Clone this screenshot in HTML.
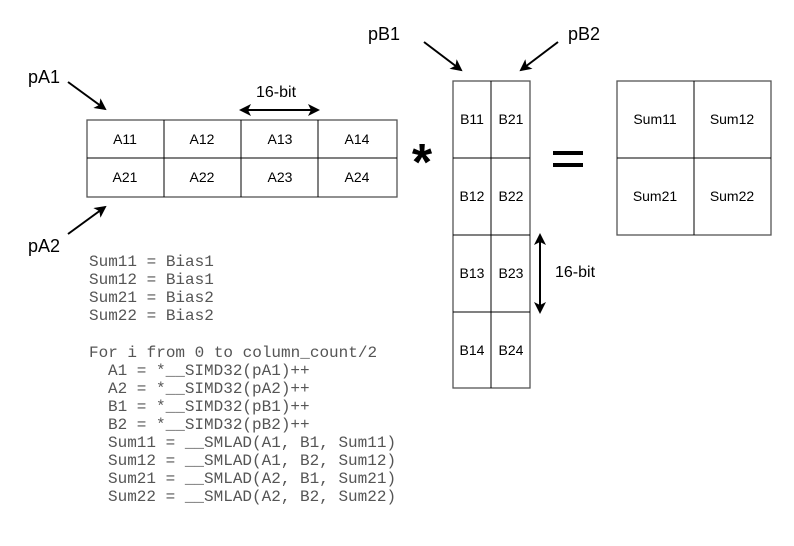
<!DOCTYPE html><html><head><style>body{margin:0;background:#fff}</style></head><body>
<svg width="794" height="541" xmlns="http://www.w3.org/2000/svg" font-family="Liberation Sans, sans-serif">
<defs><marker id="a" markerWidth="12" markerHeight="12" refX="10" refY="6" orient="auto" markerUnits="userSpaceOnUse"><path d="M0,0 L12,6 L0,12 L3,6 z" fill="#000"/></marker></defs>
<g fill="none" stroke="#555" stroke-width="1.3">
<rect x="87" y="120" width="310" height="77"/>
<rect x="453" y="81" width="77" height="307"/>
<rect x="617" y="81" width="154" height="154"/>
</g>
<g stroke="#000" stroke-width="1">
<line x1="87" y1="158" x2="397" y2="158"/><line x1="164" y1="120" x2="164" y2="197"/><line x1="241" y1="120" x2="241" y2="197"/><line x1="318" y1="120" x2="318" y2="197"/>
<line x1="491" y1="81" x2="491" y2="388"/><line x1="453" y1="158" x2="530" y2="158"/><line x1="453" y1="235" x2="530" y2="235"/><line x1="453" y1="312" x2="530" y2="312"/>
<line x1="694" y1="81" x2="694" y2="235"/><line x1="617" y1="158" x2="771" y2="158"/>
</g>
<g stroke="#000" stroke-width="2" marker-end="url(#a)">
<line x1="68" y1="82" x2="105" y2="109"/><line x1="68" y1="234" x2="105" y2="207"/>
<line x1="424" y1="42" x2="461" y2="70"/><line x1="558" y1="42" x2="521" y2="70"/>
<line x1="279" y1="110" x2="318" y2="110"/><line x1="279" y1="110" x2="241" y2="110"/>
<line x1="540" y1="273" x2="540" y2="312"/><line x1="540" y1="273" x2="540" y2="235"/>
</g>
<g font-size="18" fill="#000">
<text x="28" y="83">pA1</text><text x="28" y="252">pA2</text><text x="368" y="40">pB1</text><text x="568" y="40">pB2</text>
<text x="256" y="97" font-size="16">16-bit</text><text x="555" y="277" font-size="16">16-bit</text>
</g>
<g font-size="14" text-anchor="middle">
<text x="125" y="144">A11</text><text x="202" y="144">A12</text><text x="280" y="144">A13</text><text x="357" y="144">A14</text>
<text x="125" y="182">A21</text><text x="202" y="182">A22</text><text x="280" y="182">A23</text><text x="357" y="182">A24</text>
<text x="472" y="124">B11</text><text x="511" y="124">B21</text>
<text x="472" y="201">B12</text><text x="511" y="201">B22</text>
<text x="472" y="278">B13</text><text x="511" y="278">B23</text>
<text x="472" y="355">B14</text><text x="511" y="355">B24</text>
<text x="655" y="124">Sum11</text><text x="732" y="124">Sum12</text>
<text x="655" y="201">Sum21</text><text x="732" y="201">Sum22</text>
</g>
<text x="422" y="180" font-size="52" text-anchor="middle" font-weight="bold">*</text>
<rect x="553" y="151" width="30" height="4" fill="#000"/><rect x="553" y="163" width="30" height="4" fill="#000"/>
<g font-family="Liberation Mono, monospace" font-size="16" fill="#555">
<text x="89" y="266">Sum11 = Bias1</text>
<text x="89" y="284">Sum12 = Bias1</text>
<text x="89" y="302">Sum21 = Bias2</text>
<text x="89" y="320">Sum22 = Bias2</text>
<text x="89" y="357">For i from 0 to column_count/2</text>
<text x="108" y="375">A1 = *__SIMD32(pA1)++</text>
<text x="108" y="393">A2 = *__SIMD32(pA2)++</text>
<text x="108" y="411">B1 = *__SIMD32(pB1)++</text>
<text x="108" y="429">B2 = *__SIMD32(pB2)++</text>
<text x="108" y="447">Sum11 = __SMLAD(A1, B1, Sum11)</text>
<text x="108" y="465">Sum12 = __SMLAD(A1, B2, Sum12)</text>
<text x="108" y="483">Sum21 = __SMLAD(A2, B1, Sum21)</text>
<text x="108" y="501">Sum22 = __SMLAD(A2, B2, Sum22)</text>
</g>
</svg></body></html>
